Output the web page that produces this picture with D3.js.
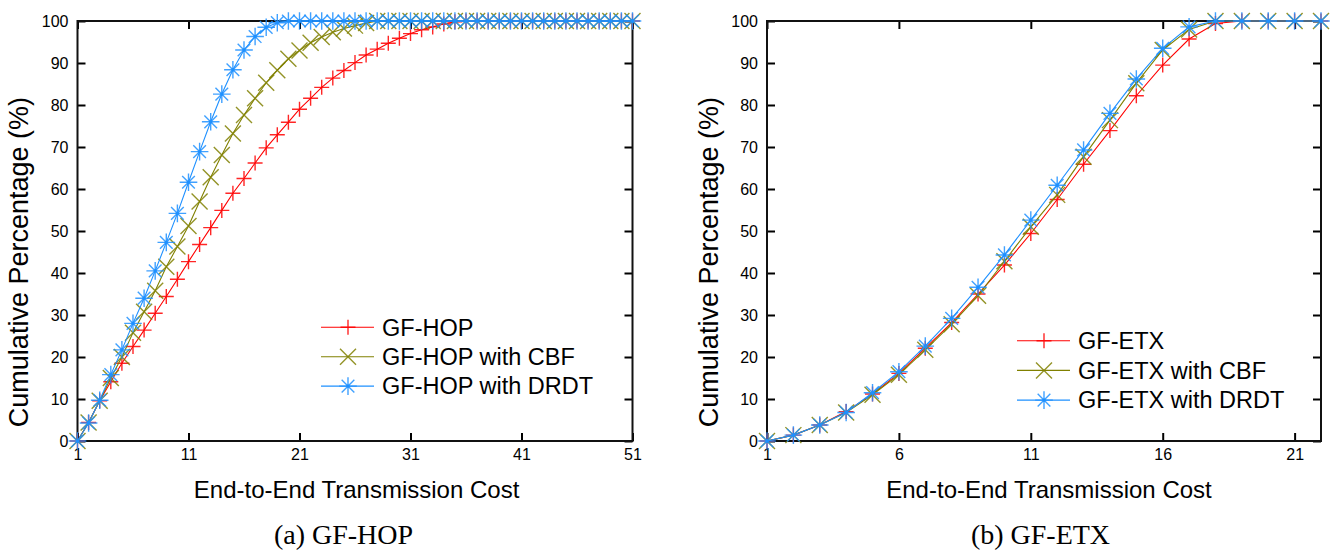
<!DOCTYPE html>
<html lang="en">
<head>
<meta charset="utf-8">
<title>CDF of end-to-end transmission cost</title>
<script src="https://d3js.org/d3.v7.min.js"></script>
<style>
body { margin: 0; background: #fff; }
svg text { font-family: "Liberation Sans", Arial, Helvetica, sans-serif; fill: #000; }
text.caption { font-family: "Liberation Serif", "Times New Roman", serif; }
.tick line { stroke: #000; stroke-width: 2; }
.tick text { font-size: 16px; }
.domain { display: none; }
</style>
</head>
<body>
<svg id="chart" width="1336" height="550"></svg>
<script>
// ---- data ----
var hopCost = [1,2,3,4,5,6,7,8,9,10,11,12,13,14,15,16,17,18,19,20,21,22,23,24,25,26,27,28,29,30,
  31,32,33,34,35,36,37,38,39,40,41,42,43,44,45,46,47,48,49,50,51];
var hopPlain = [0,4.4,9.6,14.1,18.5,22.5,26.4,30.4,34.4,38.5,42.7,46.8,50.8,54.9,59,62.5,66.2,69.8,72.9,75.9,
  79,81.6,84.2,86.4,88.2,90.1,91.9,93.3,94.7,95.9,97,97.9,98.6,99.3,99.8,100,100,100,100,100,
  100,100,100,100,100,100,100,100,100,100,100];
var hopCbf = [0,4.4,9.6,15,20,25.8,30.8,35.8,41.5,46.3,51.2,57,62.8,68.1,73.2,77.6,81.6,85.3,88.3,91,
  93,94.8,96.2,97.3,98.2,98.9,99.5,100,100,100,100,100,100,100,100,100,100,100,100,100,
  100,100,100,100,100,100,100,100,100,100,100];
var hopDrdt = [0,4.3,9.7,15.8,21.7,28,34,40.5,47.3,54.2,61.6,68.9,76,82.6,88.4,93.1,96.3,98.5,99.6,100,
  100,100,100,100,100,100,100,100,100,100,100,100,100,100,100,100,100,100,100,100,
  100,100,100,100,100,100,100,100,100,100,100];
var hopTicks = [1, 11, 21, 31, 41, 51];
var hopNames = ["GF-HOP", "GF-HOP with CBF", "GF-HOP with DRDT"];

var etxCost = [1,2,3,4,5,6,7,8,9,10,11,12,13,14,15,16,17,18,19,20,21,22];
var etxPlain = [0,1.4,3.8,7,11.2,16.1,22.1,28.2,35,41.9,49.4,57.5,65.9,73.9,82.2,89.5,95.7,99.4,100,100,100,100];
var etxCbf = [0,1.4,3.8,6.8,11,15.8,21.7,27.8,34.6,42.8,51,58.6,67.7,76.4,85.2,93.1,98,100,100,100,100,100];
var etxDrdt = [0,1.4,3.8,6.8,11.5,16.5,22.6,29.2,36.6,44.3,52.6,60.9,69.3,78,86.2,93.5,98.6,100,100,100,100,100];
var etxTicks = [1, 6, 11, 16, 21];
var etxNames = ["GF-ETX", "GF-ETX with CBF", "GF-ETX with DRDT"];

var pctTicks = [0,10,20,30,40,50,60,70,80,90,100];

var colors = ["#ff0000", "#808000", "#1e90ff"];
var markers = ["plus", "times", "asterisk"];

// ---- layout ----
var plotTop = 21, plotBottom = 441;
var svg = d3.select("#chart");

var panels = [
  { x0: 77.5, x1: 632.5, domain: [1, 51], ticks: hopTicks, cost: hopCost,
    series: [hopPlain, hopCbf, hopDrdt], names: hopNames,
    legX: 321, legY: 327.3, legStep: 29.4, yTitleX: 28, yTitleEnd: 97,
    xTitleX: 356.6, caption: "(a) GF-HOP", capX: 343.5 },
  { x0: 767, x1: 1321, domain: [1, 22], ticks: etxTicks, cost: etxCost,
    series: [etxPlain, etxCbf, etxDrdt], names: etxNames,
    legX: 1017, legY: 340.7, legStep: 29.7, yTitleX: 718, yTitleEnd: 97,
    xTitleX: 1049, caption: "(b) GF-ETX", capX: 1040.5 }
];

// marker path builders
function markerPath(type, s) {
  var d = "";
  if (type == "plus" || type == "asterisk") {
    d += "M" + (-s) + ",0H" + s + "M0," + (-s) + "V" + s;
  }
  if (type == "times") {
    d += "M" + (-s) + "," + (-s) + "L" + s + "," + s + "M" + (-s) + "," + s + "L" + s + "," + (-s);
  }
  if (type == "asterisk") {
    var k = s * 0.72;
    d += "M" + (-k) + "," + (-k) + "L" + k + "," + k + "M" + (-k) + "," + k + "L" + k + "," + (-k);
  }
  return d;
}
var markerSize = [7.5, 8, 8.8];

function drawMarker(g, i, cx, cy) {
  g.append("path")
    .attr("transform", "translate(" + cx + "," + cy + ")")
    .attr("d", markerPath(markers[i], markerSize[i]))
    .attr("fill", "none")
    .attr("stroke", colors[i])
    .attr("stroke-width", 1.4)
    .attr("stroke-opacity", 0.85);
  if (markers[i] == "asterisk") {
    g.append("circle").attr("cx", cx).attr("cy", cy).attr("r", 1.7).attr("fill", colors[i]);
  }
}

panels.forEach(function(p) {
  var x = d3.scaleLinear().domain(p.domain).range([p.x0, p.x1]);
  var y = d3.scaleLinear().domain([0, 100]).range([plotBottom, plotTop]);

  // axes with inward ticks
  svg.append("g").attr("transform", "translate(0," + plotBottom + ")")
    .call(d3.axisBottom(x).tickValues(p.ticks).tickSizeInner(-8).tickSizeOuter(0).tickPadding(8));
  svg.append("g").attr("transform", "translate(0," + plotTop + ")")
    .call(d3.axisTop(x).tickValues(p.ticks).tickSizeInner(-8).tickSizeOuter(0).tickFormat(""));
  svg.append("g").attr("transform", "translate(" + p.x0 + ",0)")
    .call(d3.axisLeft(y).tickValues(pctTicks).tickSizeInner(-8).tickSizeOuter(0).tickPadding(9));
  svg.append("g").attr("transform", "translate(" + p.x1 + ",0)")
    .call(d3.axisRight(y).tickValues(pctTicks).tickSizeInner(-8).tickSizeOuter(0).tickFormat(""));

  // frame
  svg.append("rect")
    .attr("x", p.x0).attr("y", plotTop)
    .attr("width", p.x1 - p.x0).attr("height", plotBottom - plotTop)
    .attr("fill", "none").attr("stroke", "#111").attr("stroke-width", 2);

  // series
  var line = d3.line().x(function(d) { return x(d[0]); }).y(function(d) { return y(d[1]); });
  p.series.forEach(function(vals, i) {
    var pts = p.cost.map(function(c, j) { return [c, vals[j]]; });
    var g = svg.append("g");
    g.append("path").datum(pts).attr("d", line)
      .attr("fill", "none").attr("stroke", colors[i]).attr("stroke-width", 1.1);
    pts.forEach(function(d) { drawMarker(g, i, x(d[0]), y(d[1])); });
  });

  // legend
  p.names.forEach(function(name, i) {
    var ly = p.legY + i * p.legStep;
    var g = svg.append("g");
    g.append("line").attr("x1", p.legX).attr("x2", p.legX + 53)
      .attr("y1", ly).attr("y2", ly)
      .attr("stroke", colors[i]).attr("stroke-width", 1.1);
    drawMarker(g, i, p.legX + 27, ly);
    g.append("text").attr("x", p.legX + 61).attr("y", ly).attr("dy", "0.35em")
      .style("font-size", "23.5px").text(name);
  });

  // titles
  svg.append("text")
    .attr("transform", "translate(" + p.yTitleX + "," + p.yTitleEnd + ")rotate(-90)")
    .attr("text-anchor", "end")
    .style("font-size", "27px")
    .text("Cumulative Percentage (%)");
  svg.append("text")
    .attr("x", p.xTitleX).attr("y", 498)
    .attr("text-anchor", "middle")
    .style("font-size", "24px")
    .text("End-to-End Transmission Cost");
  svg.append("text").attr("class", "caption")
    .attr("x", p.capX).attr("y", 544)
    .attr("text-anchor", "middle")
    .style("font-size", "28px")
    .text(p.caption);
});
</script>
</body>
</html>
